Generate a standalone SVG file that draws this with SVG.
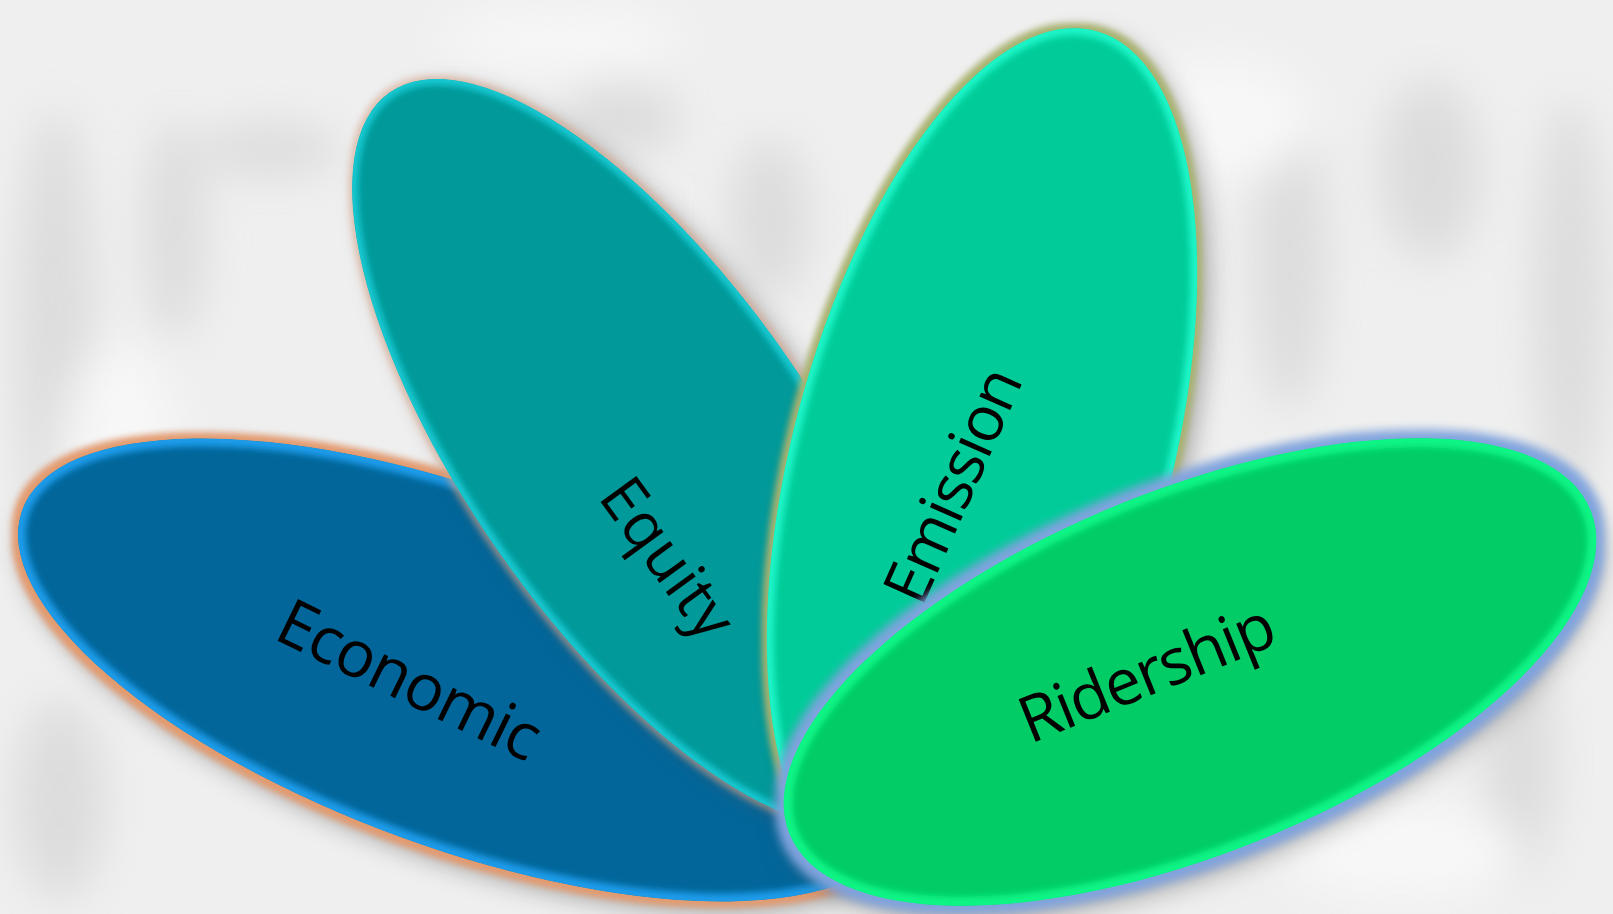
<svg xmlns="http://www.w3.org/2000/svg" width="1613" height="914" viewBox="0 0 1613 914">
  <defs>
    <style>
      .label{font-family:"Open Sans","Noto Sans","Liberation Sans",sans-serif;fill:#000000;}
      .rim{fill:none;filter:url(#rimBlur);}
      .blob{fill:#d6d6d6;}
      .blobw{fill:#fafafa;}
    </style>

    <!-- petal outlines -->
    <ellipse id="shEco" cx="0" cy="0" rx="468" ry="178" transform="translate(462,670) rotate(20)"/>
    <ellipse id="shEqu" cx="0" cy="0" rx="440" ry="174" transform="translate(642,453) rotate(55)"/>
    <ellipse id="shEmi" cx="0" cy="0" rx="440" ry="189" transform="translate(982,456) rotate(-75)"/>
    <ellipse id="shRid" cx="0" cy="0" rx="432" ry="182" transform="translate(1190,672) rotate(-22)"/>

    <clipPath id="clipEco"><use href="#shEco"/></clipPath>
    <clipPath id="clipEqu"><use href="#shEqu"/></clipPath>
    <clipPath id="clipEmi"><use href="#shEmi"/></clipPath>
    <clipPath id="clipRid"><use href="#shRid"/></clipPath>

    <filter id="bgBlur" x="-10%" y="-10%" width="120%" height="120%">
      <feGaussianBlur stdDeviation="22"/>
    </filter>
    <filter id="rimBlur" x="-10%" y="-10%" width="120%" height="120%">
      <feGaussianBlur stdDeviation="3"/>
    </filter>

    <!-- shadow + coloured halo for each petal -->
    <filter id="fxEco" x="-10%" y="-15%" width="125%" height="140%" color-interpolation-filters="sRGB">
      <feGaussianBlur in="SourceAlpha" stdDeviation="12" result="b1"/>
      <feOffset in="b1" dx="2" dy="12" result="o1"/>
      <feFlood flood-color="#555555" flood-opacity="0.45"/>
      <feComposite in2="o1" operator="in" result="shadow"/>
      <feMorphology in="SourceAlpha" operator="dilate" radius="6" result="d"/>
      <feGaussianBlur in="d" stdDeviation="3" result="db"/>
      <feFlood flood-color="#E39A6E"/>
      <feComposite in2="db" operator="in" result="halo"/>
      <feMerge><feMergeNode in="shadow"/><feMergeNode in="halo"/><feMergeNode in="SourceGraphic"/></feMerge>
    </filter>
    <filter id="fxEqu" x="-15%" y="-10%" width="140%" height="125%" color-interpolation-filters="sRGB">
      <feGaussianBlur in="SourceAlpha" stdDeviation="12" result="b1"/>
      <feOffset in="b1" dx="12" dy="8" result="o1"/>
      <feFlood flood-color="#555555" flood-opacity="0.45"/>
      <feComposite in2="o1" operator="in" result="shadow"/>
      <feMorphology in="SourceAlpha" operator="dilate" radius="3" result="d"/>
      <feGaussianBlur in="d" stdDeviation="3" result="db"/>
      <feFlood flood-color="#D9A58A" flood-opacity="0.6"/>
      <feComposite in2="db" operator="in" result="halo"/>
      <feMerge><feMergeNode in="shadow"/><feMergeNode in="halo"/><feMergeNode in="SourceGraphic"/></feMerge>
    </filter>
    <filter id="fxEmi" x="-15%" y="-10%" width="140%" height="125%" color-interpolation-filters="sRGB">
      <feGaussianBlur in="SourceAlpha" stdDeviation="12" result="b1"/>
      <feOffset in="b1" dx="12" dy="8" result="o1"/>
      <feFlood flood-color="#555555" flood-opacity="0.45"/>
      <feComposite in2="o1" operator="in" result="shadow"/>
      <feMorphology in="SourceAlpha" operator="dilate" radius="5" result="d"/>
      <feGaussianBlur in="d" stdDeviation="3" result="db"/>
      <feFlood flood-color="#A9B26E"/>
      <feComposite in2="db" operator="in" result="halo"/>
      <feMerge><feMergeNode in="shadow"/><feMergeNode in="halo"/><feMergeNode in="SourceGraphic"/></feMerge>
    </filter>
    <filter id="fxRid" x="-10%" y="-20%" width="125%" height="145%" color-interpolation-filters="sRGB">
      <feGaussianBlur in="SourceAlpha" stdDeviation="14" result="b1"/>
      <feOffset in="b1" dx="4" dy="14" result="o1"/>
      <feFlood flood-color="#555555" flood-opacity="0.5"/>
      <feComposite in2="o1" operator="in" result="shadow"/>
      <feMorphology in="SourceAlpha" operator="dilate" radius="8" result="d"/>
      <feGaussianBlur in="d" stdDeviation="5" result="db"/>
      <feFlood flood-color="#7FA3DE"/>
      <feComposite in2="db" operator="in" result="halo"/>
      <feMerge><feMergeNode in="shadow"/><feMergeNode in="halo"/><feMergeNode in="SourceGraphic"/></feMerge>
    </filter>
  </defs>

  <!-- soft grey backdrop -->
  <g id="backdrop">
    <rect x="0" y="0" width="1613" height="914" fill="#efefef"/>
    <g filter="url(#bgBlur)" opacity="0.75">
      <ellipse class="blob" cx="55" cy="330" rx="38" ry="220"/>
      <ellipse class="blob" cx="175" cy="230" rx="30" ry="110"/>
      <ellipse class="blob" cx="270" cy="150" rx="70" ry="26"/>
      <ellipse class="blob" cx="620" cy="120" rx="60" ry="36"/>
      <ellipse class="blob" cx="770" cy="220" rx="40" ry="80"/>
      <ellipse class="blob" cx="1290" cy="260" rx="36" ry="150"/>
      <ellipse class="blob" cx="1430" cy="170" rx="50" ry="90"/>
      <ellipse class="blob" cx="1570" cy="300" rx="35" ry="200"/>
      <ellipse class="blob" cx="60" cy="800" rx="45" ry="100"/>
      <ellipse class="blob" cx="1520" cy="760" rx="35" ry="120"/>
      <ellipse class="blobw" cx="120" cy="480" rx="60" ry="140"/>
      <ellipse class="blobw" cx="1220" cy="120" rx="90" ry="60"/>
      <ellipse class="blobw" cx="560" cy="40" rx="120" ry="30"/>
      <ellipse class="blobw" cx="1400" cy="850" rx="120" ry="50"/>
    </g>
  </g>

  <g id="connectors"/>

  <g id="node-economic">
    <g filter="url(#fxEco)">
      <g clip-path="url(#clipEco)">
        <use href="#shEco" fill="#02669A"/>
        <use href="#shEco" class="rim" stroke="#1A9BEA" stroke-width="16"/>
      </g>
    </g>
    <text class="label" font-size="65" transform="translate(272,638) rotate(26)" textLength="284" lengthAdjust="spacing">Economic</text>
  </g>

  <g id="node-equity">
    <g filter="url(#fxEqu)">
      <g clip-path="url(#clipEqu)">
        <use href="#shEqu" fill="#019999"/>
        <use href="#shEqu" class="rim" stroke="#16C9D2" stroke-width="12"/>
      </g>
    </g>
    <text class="label" font-size="62" transform="translate(597,497) rotate(54)" textLength="182" lengthAdjust="spacing">Equity</text>
  </g>

  <g id="node-emission">
    <g filter="url(#fxEmi)">
      <g clip-path="url(#clipEmi)">
        <use href="#shEmi" fill="#01CC99"/>
        <use href="#shEmi" class="rim" stroke="#1DF5C8" stroke-width="14"/>
      </g>
    </g>
    <text class="label" font-size="63" transform="translate(922,608) rotate(-66)" textLength="250" lengthAdjust="spacing">Emission</text>
  </g>

  <g id="node-ridership">
    <g filter="url(#fxRid)">
      <g clip-path="url(#clipRid)">
        <use href="#shRid" fill="#01CC66"/>
        <use href="#shRid" class="rim" stroke="#10F585" stroke-width="18"/>
      </g>
    </g>
    <text class="label" font-size="64" transform="translate(1030,744) rotate(-22)" textLength="270" lengthAdjust="spacing">Ridership</text>
  </g>
</svg>
